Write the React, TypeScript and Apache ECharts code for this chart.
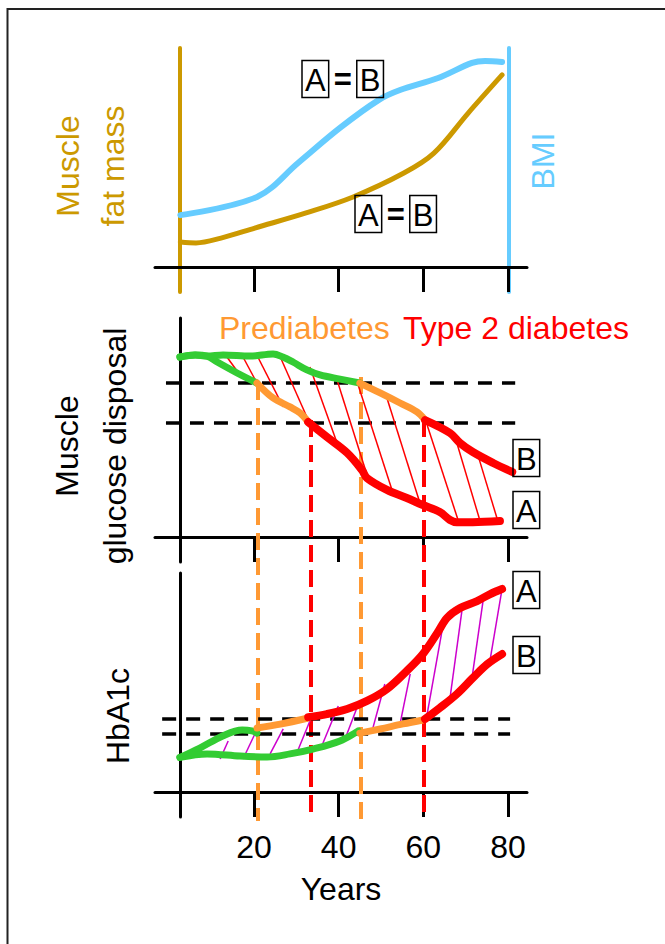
import React, { useEffect, useRef } from "react";
import * as echarts from "echarts";

const FONT = "'Liberation Sans', Arial, Helvetica, sans-serif";
const GOLD = "#CC9900";
const BLUE = "#66CCFF";
const GREEN = "#33CC33";
const ORANGE = "#FF9933";
const RED = "#FF0000";
const MAGENTA = "#CC00CC";
const FS = 32;

// Years axis
const X_MIN = -3.39;
const X_MAX = 84.49;
const YEAR_TICKS = [20, 40, 60, 80];
const Y_MIN = -11.4;
const Y_MAX = 100;

// Top panel: muscle fat mass (gold) and BMI (blue)
const bmiCurve = [[2.6, 23.7], [20.7, 32], [30.4, 47.5], [40.3, 63.5], [49.5, 76.3], [54.5, 80.8], [63.5, 86.3], [71.5, 93.2], [74.6, 94.1], [78.6, 93.6]];
const fatMassCurve = [[2.6, 11.4], [6.3, 11.0], [12.2, 13.2], [20.2, 17.8], [32.3, 24.7], [43.4, 32], [55.4, 42.9], [62.5, 52], [70.6, 70.3], [78.6, 87.7]];

// Middle panel: muscle glucose disposal
const disposalAGreen = [[2.5, 82.2], [6.1, 83.1], [8.9, 82.6], [11.3, 79.9], [16, 74.9], [20.7, 70.3]];
const disposalAOrange = [[20.7, 70.3], [24.5, 63.5], [28.5, 59.4], [30.9, 56.6], [32.8, 52.5]];
const disposalARed = [[32.8, 52.5], [37.2, 45.7], [42, 38.4], [45.5, 30.6], [46.7, 26.9], [51.4, 21.5], [56.1, 17.8], [59.9, 14.6], [63.9, 11.4], [66.3, 7.8], [67.9, 6.8], [71.7, 6.8], [78.1, 7.3]];
const disposalBGreen = [[2.5, 82.2], [6.1, 83.1], [8.9, 82.6], [12.7, 83.1], [19.1, 82.6], [24.5, 83.6], [26.8, 82.2], [29.2, 79.9], [32.5, 76.3], [35.6, 74], [40.3, 72.1], [45, 70.3]];
const disposalBOrange = [[45, 70.3], [49.8, 65.8], [54.5, 61.2], [58.5, 57.1], [60.4, 53.4]];
const disposalBRed = [[60.4, 53.4], [66.3, 47.5], [68.7, 42.9], [71.7, 38.8], [76.5, 33.8], [81, 29.7]];
const disposalHatches = [
  [13.6, 82.2, 16.7, 74], [17.4, 82.2, 20.7, 70.3], [20.9, 82.2, 26.9, 59.4], [26.2, 82.2, 32.8, 53.4],
  [33.2, 77.6, 40.3, 39.3], [39.4, 73.1, 46.7, 28.3], [44.6, 69.4, 52.6, 21.5], [51.4, 63.5, 59.2, 15.5],
  [60.9, 51.1, 68.2, 7.8], [67.5, 45.7, 73.4, 7.3], [72.9, 37.4, 77.6, 7.3],
];
const disposalThresholds = [70.3, 52.1];
const disposalThresholdSpan = [-0.8, 81.7];

// Bottom panel: HbA1c
const hba1cAGreen = [[2.5, 15.8], [7.2, 20.1], [12.6, 25.6], [17.2, 28.3], [19.5, 27.9], [20.7, 26.9]];
const hba1cAOrange = [[20.7, 29.2], [26.2, 31], [32.8, 33.8]];
const hba1cARed = [[32.8, 34.2], [37.2, 35.6], [42, 37.9], [46.7, 41.6], [51.4, 47], [56.1, 55.3], [59.9, 63], [63.3, 72.6], [65.6, 79.5], [68.7, 84], [72.7, 87.2], [75.8, 90.4], [78.6, 92.7]];
const hba1cBGreen = [[2.5, 15.8], [8.9, 17.4], [16.7, 16.4], [23.1, 16], [28.5, 17.4], [33.9, 19.6], [40.3, 23.3], [44.6, 27.9]];
const hba1cBOrange = [[45, 26.9], [49.8, 28.8], [55.2, 31.1], [59.9, 32.9]];
const hba1cBRed = [[60.4, 33.3], [63.9, 38.4], [67.9, 44.7], [71.7, 52.1], [75.1, 58.4], [78.6, 63]];
const hba1cHatches = [
  [12, 15.1, 13.9, 23.3], [17.4, 15.1, 20.2, 26.5], [23.8, 17.4, 26.9, 28.8], [30.4, 19.2, 33.2, 32.4],
  [36.1, 21.5, 39.9, 39.3], [41.5, 24.2, 44.3, 38.4], [47.9, 27.9, 50.9, 49.3], [54.5, 31.1, 56.9, 53.9],
  [60.9, 35.6, 64.4, 73.5], [66.3, 42.9, 69.1, 82.6], [71.5, 52.1, 74.1, 87.2], [75.8, 60.7, 78.6, 92.7],
];
const hba1cThresholds = [33.3, 26.5];
const hba1cThresholdSpan = [-1.7, 80.5];

// Stage onset markers (overlay spanning middle + bottom panels, in middle-panel units)
const stageYears = [21, 33.5, 45.2, 60.2];
const stageTop = [70.3, 53.4, 73.1, 53.4];
const stageBottom = [-129.7, -126.9, -129.2, -126.9];
const stageKind = ["pre", "t2d", "pre", "t2d"];
const OVERLAY_MIN = -133.8;

const curve = (data: number[][], color: string, width: number, xi: number, yi: number) => ({
  type: "line",
  data,
  xAxisIndex: xi,
  yAxisIndex: yi,
  smooth: 0.35,
  symbol: "none",
  silent: true,
  z: 5,
  lineStyle: { color, width, cap: "round", join: "round" },
});

const segs = (list: number[][], color: string, width: number, xi: number, yi: number, type: any, z: number) => ({
  type: "lines",
  coordinateSystem: "cartesian2d",
  xAxisIndex: xi,
  yAxisIndex: yi,
  silent: true,
  z,
  polyline: false,
  lineStyle: { color, width, opacity: 1, type, curveness: 0 },
  data: list.map((s) => ({ coords: [[s[0], s[1]], [s[2], s[3]]] })),
});

const thresholdSegs = (levels: number[], span: number[]) => levels.map((l) => [span[0], l, span[1], l]);

const xAxisFor = (i: number) => ({
  gridIndex: i,
  type: "value",
  min: X_MIN,
  max: X_MAX,
  axisLine: { show: true, onZero: true, lineStyle: { color: "#000", width: 3 } },
  axisTick: { show: true, customValues: YEAR_TICKS, length: 25, inside: false, lineStyle: { color: "#000", width: 3 } },
  axisLabel: { show: i === 2, customValues: YEAR_TICKS, margin: 14, fontSize: FS, color: "#000", fontFamily: FONT },
  splitLine: { show: false },
  name: i === 2 ? "Years" : "",
  nameLocation: "middle",
  nameGap: 56,
  nameTextStyle: { fontSize: FS, color: "#000", fontFamily: FONT },
});

const yAxisFor = (i: number, position: string, offset: number, color: string, width: number) => ({
  gridIndex: i,
  type: "value",
  min: Y_MIN,
  max: Y_MAX,
  position,
  offset,
  axisLine: { show: true, onZero: false, lineStyle: { color, width } },
  axisTick: { show: false },
  axisLabel: { show: false },
  splitLine: { show: false },
});

const boxRich = {
  b: { fontSize: 31, fontFamily: FONT, fill: "#000", borderColor: "#000", borderWidth: 1.5, padding: [4, 3, 2, 3], lineHeight: 34 },
  e: { fontSize: 31, fontFamily: FONT, fill: "#000", fontWeight: "bold", padding: [0, 5, 0, 5], lineHeight: 34 },
};

const boxText = (text: string, x: number, y: number) => ({
  type: "text",
  x,
  y,
  z: 10,
  style: { text, rich: boxRich, align: "left", verticalAlign: "top" },
});

const label = (text: string, x: number, y: number, color: string, rotate: boolean, lineHeight = 40, align = "center") => ({
  type: "text",
  x,
  y,
  rotation: rotate ? Math.PI / 2 : 0,
  z: 10,
  style: { text, fill: color, fontSize: FS, fontFamily: FONT, align, verticalAlign: "middle", lineHeight },
});

const option: any = {
  animation: false,
  backgroundColor: "#fff",
  grid: [
    { left: 155, top: 48, width: 372, height: 244 },
    { left: 155, top: 318, width: 372, height: 244 },
    { left: 155, top: 573, width: 372, height: 244 },
    { left: 155, top: 318, width: 372, height: 512 },
  ],
  xAxis: [
    xAxisFor(0),
    xAxisFor(1),
    xAxisFor(2),
    { gridIndex: 3, type: "value", min: X_MIN, max: X_MAX, show: false },
  ],
  yAxis: [
    yAxisFor(0, "left", -25, GOLD, 4),
    yAxisFor(0, "right", -18, BLUE, 4),
    yAxisFor(1, "left", -25, "#000", 3),
    yAxisFor(2, "left", -25, "#000", 3),
    { gridIndex: 3, type: "value", min: OVERLAY_MIN, max: Y_MAX, show: false },
  ],
  series: [
    ...stageYears.map((yr, i) =>
      segs([[yr, stageTop[i], yr, stageBottom[i]]], stageKind[i] === "pre" ? ORANGE : RED, 4, 3, 4, [17, 8], 2)
    ),
    segs(thresholdSegs(disposalThresholds, disposalThresholdSpan), "#000", 3.5, 1, 2, [14, 10], 2),
    segs(thresholdSegs(hba1cThresholds, hba1cThresholdSpan), "#000", 3.5, 2, 3, [14, 10], 2),
    segs(disposalHatches, RED, 1.5, 1, 2, "solid", 3),
    segs(hba1cHatches, MAGENTA, 1.5, 2, 3, "solid", 3),
    curve(bmiCurve, BLUE, 6, 0, 1),
    curve(fatMassCurve, GOLD, 5, 0, 0),
    curve(disposalAGreen, GREEN, 7, 1, 2),
    curve(disposalBGreen, GREEN, 7, 1, 2),
    curve(disposalAOrange, ORANGE, 7, 1, 2),
    curve(disposalBOrange, ORANGE, 7, 1, 2),
    curve(disposalARed, RED, 8, 1, 2),
    curve(disposalBRed, RED, 8, 1, 2),
    curve(hba1cAGreen, GREEN, 7, 2, 3),
    curve(hba1cBGreen, GREEN, 7, 2, 3),
    curve(hba1cAOrange, ORANGE, 7, 2, 3),
    curve(hba1cBOrange, ORANGE, 7, 2, 3),
    curve(hba1cARed, RED, 8, 2, 3),
    curve(hba1cBRed, RED, 8, 2, 3),
  ],
  graphic: [
    { type: "polyline", z: 10, shape: { points: [[7.5, 944], [7.5, 9], [665, 9]] }, style: { stroke: "#222", lineWidth: 2, fill: "none" } },
    label("Muscle\nfat mass", 90, 166, GOLD, true, 45),
    label("BMI", 543, 161, BLUE, true),
    label("Muscle\nglucose disposal", 91, 446, "#000", true, 48),
    label("HbA1c", 118, 716, "#000", true),
    label("Prediabetes", 219, 328, ORANGE, false, 40, "left"),
    label("Type 2 diabetes", 403, 328, RED, false, 40, "left"),
    boxText("{b|A}{e|=}{b|B}", 302, 62),
    boxText("{b|A}{e|=}{b|B}", 355, 197),
    boxText("{b|B}", 513, 441),
    boxText("{b|A}", 513, 493),
    boxText("{b|A}", 513, 573),
    boxText("{b|B}", 513, 638),
  ],
};

export default function App() {
  const ref = useRef<HTMLDivElement>(null);
  useEffect(() => {
    document.body.style.margin = "0";
    const chart = echarts.init(ref.current as HTMLDivElement, null, { renderer: "svg" });
    chart.setOption(option);
    return () => chart.dispose();
  }, []);
  return <div ref={ref} style={{ width: 665, height: 944, background: "#fff" }} />;
}
